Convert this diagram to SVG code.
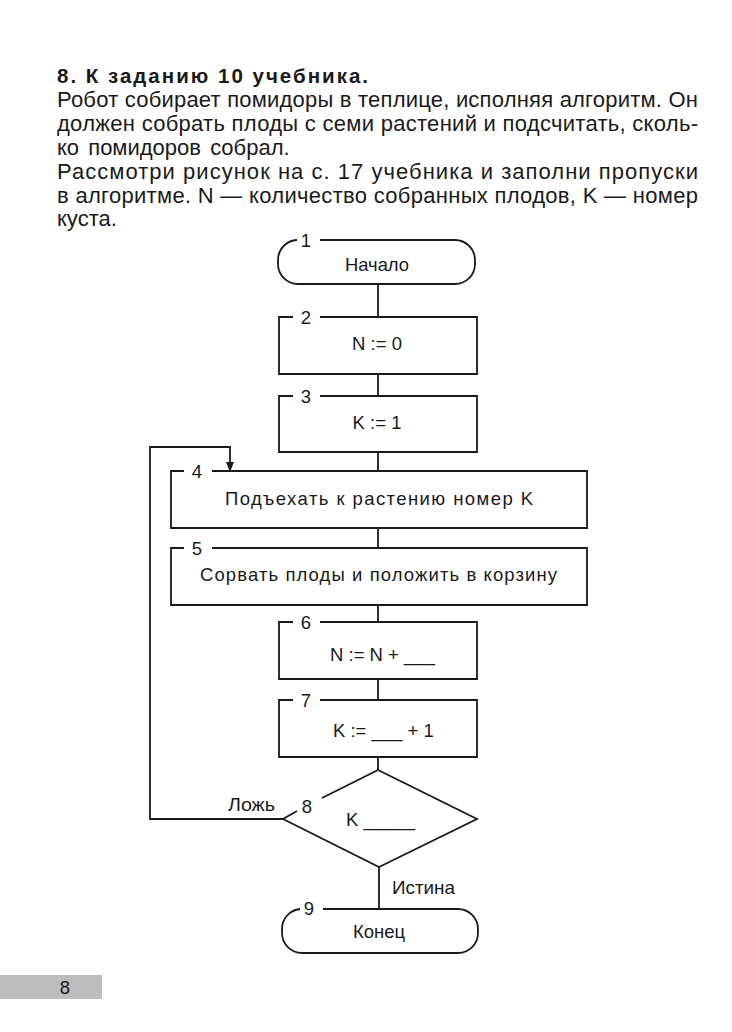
<svg xmlns="http://www.w3.org/2000/svg" width="732" height="1032" viewBox="0 0 732 1032">
<style>
.t{font-family:"Liberation Sans",Arial,sans-serif;fill:#1a1a1a}
.body{font-family:"Liberation Sans Narrow","Liberation Sans",Arial,sans-serif;font-size:22px}
.h{font-size:20.5px;font-weight:bold}
.d{font-size:18.5px}
.s{fill:none;stroke:#1a1a1a;stroke-width:1.8}
</style>
<rect width="732" height="1032" fill="#ffffff"/>
<g id="header">
<text class="t h" x="57" y="83" textLength="311" lengthAdjust="spacing">8.  К заданию  10  учебника.</text>
<text class="t body" x="57" y="107" textLength="641" lengthAdjust="spacing">Робот собирает помидоры в теплице, исполняя алгоритм. Он</text>
<text class="t body" x="57" y="131" textLength="641" lengthAdjust="spacing">должен собрать плоды с семи растений и подсчитать, сколь-</text>
<text class="t body" x="57" y="155" word-spacing="3">ко помидоров собрал.</text>
<text class="t body" x="57" y="179" textLength="641" lengthAdjust="spacing">Рассмотри рисунок на с. 17 учебника и заполни пропуски</text>
<text class="t body" x="57" y="203" textLength="641" lengthAdjust="spacing">в алгоритме. N — количество собранных плодов, K — номер</text>
<text class="t body" x="57" y="226">куста.</text>
</g>
<g id="connectors">
<path class="s" d="M378,284 V317 M378,374 V396 M378,452 V471 M378,528 V548 M378,605 V622 M378,679 V700 M378,757 V770 M379,867 V909"/>
<path class="s" d="M283,819 H150 V447 H230 V463"/>
<path d="M226,462 L234,462 L230,472 Z" fill="#1a1a1a"/>
<text class="t d" x="228" y="811" textLength="47" lengthAdjust="spacingAndGlyphs">Ложь</text>
<text class="t d" x="392" y="894" textLength="63" lengthAdjust="spacingAndGlyphs">Истина</text>
</g>
<g id="n1">
<path class="s" d="M320,240 H455 A20,20 0 0 1 475,260 V264 A20,20 0 0 1 455,284 H298 A20,20 0 0 1 278,264 V260 A20,20 0 0 1 297,240"/>
<text class="t d" x="306" y="247" text-anchor="middle">1</text>
<text class="t d" x="377" y="271" text-anchor="middle" textLength="64" lengthAdjust="spacingAndGlyphs">Начало</text>
</g>
<g id="n2">
<path class="s" d="M320,317 H477 V374 H279 V317 H293"/>
<text class="t d" x="306" y="324" text-anchor="middle">2</text>
<text class="t d" x="377" y="350" text-anchor="middle">N := 0</text>
</g>
<g id="n3">
<path class="s" d="M320,396 H477 V452 H279 V396 H293"/>
<text class="t d" x="306" y="403" text-anchor="middle">3</text>
<text class="t d" x="377" y="429" text-anchor="middle">K := 1</text>
</g>
<g id="n4">
<path class="s" d="M212,471 H587 V528 H171 V471 H184"/>
<text class="t d" x="197" y="478" text-anchor="middle">4</text>
<text class="t d" x="225" y="505" textLength="308" lengthAdjust="spacing">Подъехать  к  растению  номер  K</text>
</g>
<g id="n5">
<path class="s" d="M212,548 H587 V605 H171 V548 H184"/>
<text class="t d" x="197" y="555" text-anchor="middle">5</text>
<text class="t d" x="200" y="581" textLength="357" lengthAdjust="spacing">Сорвать плоды и положить в корзину</text>
</g>
<g id="n6">
<path class="s" d="M320,622 H477 V679 H279 V622 H293"/>
<text class="t d" x="306" y="629" text-anchor="middle">6</text>
<text class="t d" x="330" y="661">N := N + ___</text>
</g>
<g id="n7">
<path class="s" d="M320,700 H477 V757 H279 V700 H293"/>
<text class="t d" x="306" y="707" text-anchor="middle">7</text>
<text class="t d" x="333" y="737">K := ___ + 1</text>
</g>
<g id="n8">
<path class="s" d="M322,798 L378,770 L477,819 L379,867 L283,819 L297,811"/>
<text class="t d" x="307" y="813" text-anchor="middle">8</text>
<text class="t d" x="346" y="826">K _____</text>
</g>
<g id="n9">
<path class="s" d="M323,909 H458 A20,20 0 0 1 478,929 V933 A20,20 0 0 1 458,953 H302 A20,20 0 0 1 282,933 V929 A20,20 0 0 1 300,909"/>
<text class="t d" x="309" y="915" text-anchor="middle">9</text>
<text class="t d" x="379" y="938" text-anchor="middle">Конец</text>
</g>
<g id="footer">
<rect x="0" y="975" width="102" height="24" fill="#bdbdbd"/>
<text class="t d" x="65" y="994" text-anchor="middle" font-size="17">8</text>
</g>
</svg>
